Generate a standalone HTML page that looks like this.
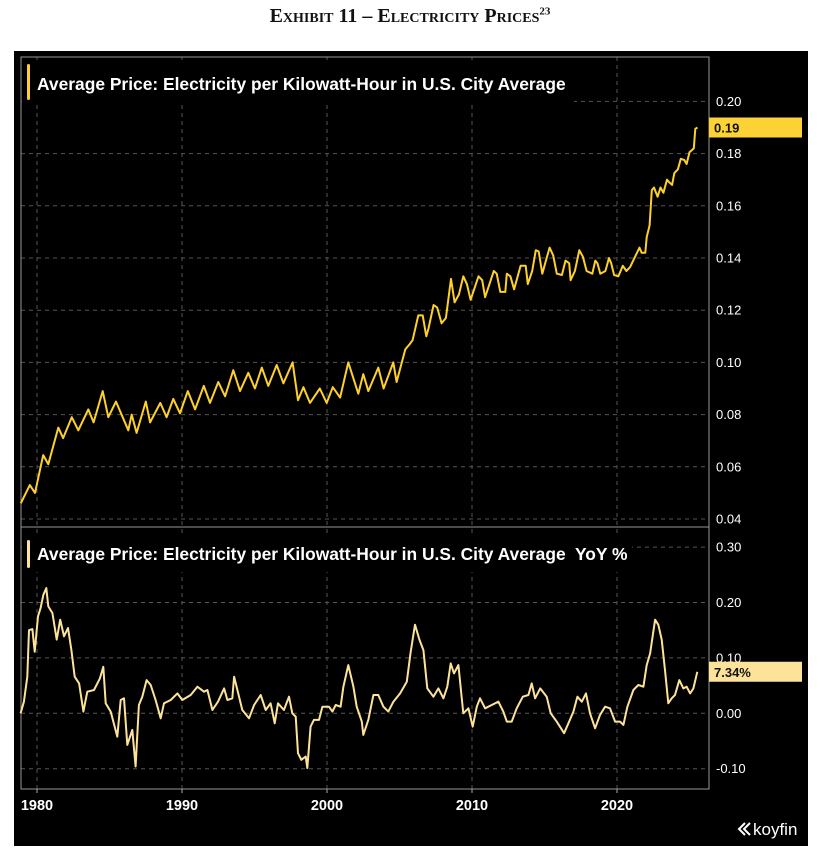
<!DOCTYPE html>
<html><head><meta charset="utf-8"><style>
html,body{margin:0;padding:0;background:#fff;width:820px;height:859px;overflow:hidden}
#title{position:absolute;left:0;top:5px;width:820px;text-align:center;font-family:"Liberation Serif",serif;font-weight:bold;font-size:20px;font-variant:small-caps;color:#111}
#title sup{font-size:11px}
svg{position:absolute;left:0;top:0}
</style></head><body>
<div id="title">Exhibit 11 – Electricity Prices<sup>23</sup></div>
<svg id="chart" width="820" height="859"></svg>
<script>
const priceYears=[1978.88,1979.5,1979.86,1980.43,1980.78,1981.47,1981.8,1982.4,1982.85,1983.54,1983.9,1984.53,1984.92,1985.45,1986.3,1986.53,1986.87,1987.5,1987.8,1988.5,1988.94,1989.4,1989.86,1990.4,1990.9,1991.5,1991.93,1992.5,1992.97,1993.54,1994.0,1994.57,1995.03,1995.5,1995.95,1996.53,1996.99,1997.63,1998.0,1998.37,1998.83,1999.5,1999.98,2000.4,2000.9,2001.47,2002.16,2002.5,2002.85,2003.54,2003.9,2004.57,2004.8,2005.4,2005.7,2005.9,2006.3,2006.6,2006.85,2007.0,2007.35,2007.6,2007.9,2008.2,2008.55,2008.8,2009.1,2009.4,2009.65,2009.9,2010.45,2010.7,2010.9,2011.5,2011.7,2011.95,2012.3,2012.4,2012.65,2012.9,2013.35,2013.7,2013.85,2014.15,2014.4,2014.6,2014.85,2015.05,2015.35,2015.6,2015.85,2016.2,2016.45,2016.7,2016.8,2017.1,2017.4,2017.65,2017.9,2018.3,2018.5,2018.65,2018.85,2019.2,2019.45,2019.6,2019.8,2020.1,2020.4,2020.65,2020.9,2021.25,2021.55,2021.7,2021.95,2022.05,2022.25,2022.4,2022.55,2022.8,2023.0,2023.2,2023.45,2023.6,2023.8,2023.95,2024.2,2024.4,2024.65,2024.8,2025.0,2025.3,2025.4,2025.55];
const priceValues=[0.046,0.053,0.050,0.0645,0.061,0.075,0.071,0.079,0.074,0.082,0.077,0.089,0.079,0.085,0.074,0.080,0.073,0.085,0.077,0.0845,0.079,0.086,0.0805,0.089,0.082,0.091,0.0845,0.0925,0.087,0.097,0.089,0.096,0.090,0.098,0.091,0.099,0.092,0.100,0.0855,0.0905,0.0845,0.090,0.0845,0.0905,0.0865,0.100,0.088,0.0955,0.089,0.098,0.090,0.100,0.0925,0.105,0.107,0.1085,0.118,0.118,0.110,0.113,0.122,0.121,0.115,0.117,0.132,0.123,0.126,0.133,0.130,0.124,0.133,0.1315,0.125,0.135,0.134,0.127,0.127,0.134,0.133,0.128,0.137,0.137,0.130,0.135,0.143,0.1425,0.134,0.138,0.144,0.141,0.134,0.1335,0.139,0.138,0.1315,0.135,0.143,0.1405,0.135,0.134,0.139,0.138,0.134,0.135,0.140,0.138,0.1335,0.133,0.137,0.135,0.1365,0.1405,0.144,0.142,0.142,0.148,0.1525,0.166,0.167,0.1635,0.167,0.165,0.170,0.169,0.168,0.1725,0.174,0.178,0.1775,0.176,0.1805,0.182,0.1895,0.190];
const yoyYears=[1978.87,1979.1,1979.33,1979.45,1979.68,1979.84,1980.07,1980.25,1980.44,1980.64,1980.78,1981.06,1981.36,1981.6,1981.86,1982.14,1982.37,1982.6,1982.9,1983.2,1983.47,1983.93,1984.34,1984.57,1984.74,1985.08,1985.54,1985.77,1986.0,1986.23,1986.57,1986.8,1987.03,1987.26,1987.56,1987.84,1988.18,1988.53,1988.76,1989.22,1989.68,1990.02,1990.6,1991.06,1991.52,1991.75,1992.1,1992.48,1992.9,1993.13,1993.47,1993.59,1993.82,1994.16,1994.62,1994.97,1995.43,1995.77,1996.11,1996.39,1996.62,1997.03,1997.38,1997.61,1997.84,1998.0,1998.23,1998.53,1998.64,1998.87,1999.1,1999.45,1999.68,2000.14,2000.37,2000.6,2000.94,2001.13,2001.47,2001.82,2002.05,2002.4,2002.5,2002.85,2003.2,2003.54,2003.89,2004.23,2004.58,2005.04,2005.5,2005.77,2006.07,2006.37,2006.65,2006.92,2007.34,2007.68,2008.03,2008.3,2008.53,2008.76,2009.06,2009.4,2009.75,2010.05,2010.33,2010.55,2010.9,2011.36,2011.82,2012.16,2012.4,2012.74,2013.08,2013.5,2013.89,2014.12,2014.35,2014.7,2015.15,2015.43,2015.84,2016.35,2016.65,2016.99,2017.27,2017.57,2017.86,2018.14,2018.49,2018.83,2019.18,2019.52,2019.87,2020.21,2020.44,2020.72,2021.13,2021.47,2021.82,2022.05,2022.28,2022.63,2022.85,2023.08,2023.31,2023.54,2023.77,2024.0,2024.3,2024.58,2024.8,2025.04,2025.27,2025.54];
const yoyValues=[0.0,0.021,0.066,0.15,0.152,0.111,0.175,0.19,0.214,0.226,0.193,0.181,0.133,0.169,0.139,0.154,0.114,0.066,0.054,0.003,0.039,0.042,0.063,0.084,0.018,0.003,-0.042,0.024,0.027,-0.057,-0.030,-0.096,0.015,0.030,0.060,0.051,0.024,-0.009,0.018,0.024,0.036,0.024,0.033,0.048,0.039,0.042,0.006,0.021,0.045,0.024,0.027,0.066,0.042,0.006,-0.009,0.015,0.033,0.006,0.018,-0.018,0.018,0.006,0.030,0.0,-0.006,-0.072,-0.084,-0.078,-0.099,-0.024,-0.012,-0.012,0.012,0.012,0.003,0.015,0.012,0.048,0.087,0.048,0.012,-0.015,-0.039,-0.012,0.033,0.033,0.012,0.003,0.021,0.036,0.057,0.111,0.160,0.133,0.114,0.045,0.030,0.045,0.027,0.048,0.090,0.072,0.087,0.0,0.009,-0.024,0.012,0.027,0.009,0.015,0.021,0.003,-0.015,-0.015,0.009,0.030,0.033,0.054,0.027,0.045,0.030,0.0,-0.015,-0.036,-0.018,0.003,0.030,0.021,0.036,0.0,-0.027,-0.003,0.012,0.009,-0.015,-0.015,-0.021,0.012,0.042,0.051,0.048,0.087,0.108,0.169,0.160,0.133,0.078,0.018,0.027,0.033,0.060,0.045,0.048,0.036,0.045,0.075];
const xTicks=[1980,1990,2000,2010,2020];
const priceTicks=[0.04,0.06,0.08,0.10,0.12,0.14,0.16,0.18,0.20];
const yoyTicks=[-0.10,0.00,0.10,0.20,0.30];
const lastPriceLabel="0.19", lastYoyLabel="7.34%";

const NS="http://www.w3.org/2000/svg";
const svg=document.getElementById('chart');
function mk(tag,attrs,parent){const e=document.createElementNS(NS,tag);for(const k in attrs)e.setAttribute(k,attrs[k]);(parent||svg).appendChild(e);return e;}
const X=y=>37+(y-1980)*14.5;
const YP=v=>519-(v-0.04)/0.02*52.2;
const YY=v=>713.3-v/0.1*55.4;
const FONT='"Liberation Sans",sans-serif';

let bg=mk('rect',{x:14,y:51,width:794,height:795,fill:'#000'});



xTicks.forEach(t=>{
  let g=mk('line',{x1:X(t),x2:X(t),y1:57,y2:789,stroke:'#555','stroke-dasharray':'4 4','stroke-width':1});
  
  
  let tk=mk('line',{x1:X(t),x2:X(t),y1:789,y2:793,stroke:'#aaa'});
  
  
  let l=mk('text',{x:X(t),y:810,fill:'#fff','font-size':14.5,'font-weight':'bold','font-family':FONT,'text-anchor':'middle'});
  l.textContent=t;
  
  
});
priceTicks.forEach(t=>{
  let g=mk('line',{x1:21,x2:709,y1:YP(t),y2:YP(t),stroke:'#555','stroke-dasharray':'4 4'});
  
  
  let l=mk('text',{x:716,y:YP(t)+4.5,fill:'#fff','font-size':13,'font-family':FONT});
  l.textContent=t.toFixed(2);
  
  
});
yoyTicks.forEach(t=>{
  let g=mk('line',{x1:21,x2:709,y1:YY(t),y2:YY(t),stroke:'#555','stroke-dasharray':'4 4'});
  
  
  let l=mk('text',{x:716,y:YY(t)+4.5,fill:'#fff','font-size':13,'font-family':FONT});
  l.textContent=t.toFixed(2);
  
  
});

let lb1=mk('rect',{x:22,y:60,width:552,height:42,fill:'#000'});


let lb2=mk('rect',{x:22,y:536,width:610,height:36,fill:'#000'});



let f1=mk('rect',{x:21,y:57,width:688,height:470,fill:'none',stroke:'#999','stroke-width':1});


let f2=mk('rect',{x:21,y:527,width:688,height:262,fill:'none',stroke:'#999','stroke-width':1});



let pd=priceYears.map((y,i)=>(i?'L':'M')+X(y).toFixed(1)+','+YP(priceValues[i]).toFixed(1)).join('');
let p1=mk('path',{d:pd,fill:'none',stroke:'#fdd02a','stroke-width':2,'stroke-linejoin':'round'});


let yd=yoyYears.map((y,i)=>(i?'L':'M')+X(y).toFixed(1)+','+YY(yoyValues[i]).toFixed(1)).join('');
let p2=mk('path',{d:yd,fill:'none',stroke:'#fde39a','stroke-width':2,'stroke-linejoin':'round'});



let b1=mk('rect',{x:27,y:64,width:3,height:36,fill:'#fdd02a',rx:1.5});


let t1=mk('text',{x:37,y:90,fill:'#fff','font-size':17.4,'font-weight':'bold','font-family':FONT});
t1.textContent='Average Price: Electricity per Kilowatt-Hour in U.S. City Average';


let b2=mk('rect',{x:27,y:540,width:3,height:28,fill:'#fde39a',rx:1.5});


let t2=mk('text',{x:37,y:560,fill:'#fff','font-size':17.4,'font-weight':'bold','font-family':FONT,'xml:space':'preserve','style':'white-space:pre'});
t2.textContent='Average Price: Electricity per Kilowatt-Hour in U.S. City Average  YoY %';



let lv=priceValues[priceValues.length-1];
let r1=mk('rect',{x:709,y:YP(lv)-10,width:93,height:20,fill:'#fdd235'});


let tt1=mk('text',{x:714,y:YP(lv)+5,fill:'#111','font-size':13,'font-weight':'bold','font-family':FONT});
tt1.textContent=lastPriceLabel;


let yv=yoyValues[yoyValues.length-1];
let r2=mk('rect',{x:709,y:YY(yv)-10,width:93,height:20,fill:'#fde39a'});


let tt2=mk('text',{x:714,y:YY(yv)+5,fill:'#111','font-size':13,'font-weight':'bold','font-family':FONT});
tt2.textContent=lastYoyLabel;



let lg=mk('path',{d:'M745,823 l-6,6 l6,6 M750,823 l-6,6 l6,6',fill:'none',stroke:'#fff','stroke-width':2});


let lt=mk('text',{x:753,y:835,fill:'#fff','font-size':17,'font-family':FONT});
lt.textContent='koyfin';


</script>
</body></html>
